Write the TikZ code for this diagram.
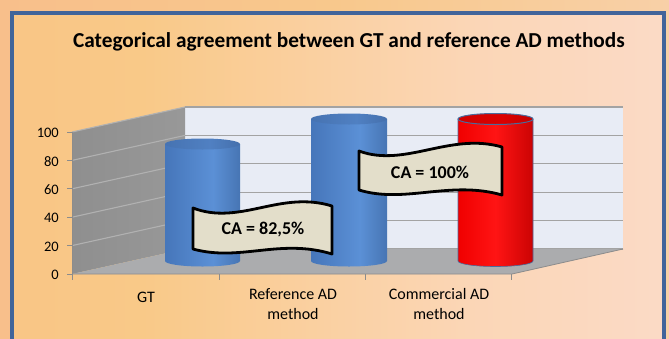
\documentclass[tikz,border=0pt]{standalone}
\usepackage{fontspec}
\setmainfont{Carlito}

% palette
\definecolor{outA}{HTML}{F9B68A}
\definecolor{outB}{HTML}{F8C88C}
\definecolor{outC}{HTML}{F9D8C2}
\definecolor{inA}{HTML}{F8BC80}
\definecolor{inB}{HTML}{F9C988}
\definecolor{inC}{HTML}{FBD6B6}
\definecolor{inD}{HTML}{FCE1E0}
\definecolor{frameblue}{HTML}{41649A}
\definecolor{wallA}{HTML}{8A8A8A}
\definecolor{wallB}{HTML}{9D9D9D}
\definecolor{backwall}{HTML}{E8ECF5}
\definecolor{gridgray}{HTML}{A3A3A3}
\definecolor{floorgray}{HTML}{ABACAE}
\definecolor{axisgray}{HTML}{8C8C8C}
\definecolor{blA}{HTML}{3A68AA}
\definecolor{blB}{HTML}{4676BA}
\definecolor{blC}{HTML}{5B90D6}
\definecolor{blD}{HTML}{3F6BA6}
\definecolor{blE}{HTML}{213E66}
\definecolor{btA}{HTML}{3E68A4}
\definecolor{btB}{HTML}{5080C2}
\definecolor{btC}{HTML}{375C92}
\definecolor{rdA}{HTML}{D80000}
\definecolor{rdB}{HTML}{F00000}
\definecolor{rdC}{HTML}{FF1414}
\definecolor{rdD}{HTML}{C00000}
\definecolor{rdE}{HTML}{6A0000}
\definecolor{rtA}{HTML}{C40000}
\definecolor{rtB}{HTML}{DC0000}
\definecolor{rtC}{HTML}{A00000}
\definecolor{redrim}{HTML}{4A6B9C}
\definecolor{calloutfill}{HTML}{E3DECA}

\pgfdeclarehorizontalshading{outsh}{100bp}{color(0bp)=(outA); color(50bp)=(outB); color(100bp)=(outC)}
\pgfdeclarehorizontalshading{insh}{100bp}{color(0bp)=(inA); color(35bp)=(inB); color(60bp)=(inC); color(100bp)=(inD)}
\pgfdeclarehorizontalshading{wallsh}{100bp}{color(0bp)=(wallA); color(100bp)=(wallB)}
\pgfdeclarehorizontalshading{bluebody}{100bp}{color(0bp)=(blA); color(25bp)=(blB); color(57bp)=(blC); color(82bp)=(blD); color(100bp)=(blE)}
\pgfdeclarehorizontalshading{bluetop}{100bp}{color(0bp)=(btA); color(55bp)=(btB); color(100bp)=(btC)}
\pgfdeclarehorizontalshading{redbody}{100bp}{color(0bp)=(rdA); color(25bp)=(rdB); color(50bp)=(rdC); color(80bp)=(rdD); color(100bp)=(rdE)}
\pgfdeclarehorizontalshading{redtop}{100bp}{color(0bp)=(rtA); color(55bp)=(rtB); color(100bp)=(rtC)}

\begin{document}
\begin{tikzpicture}[x=1pt,y=-1pt,
  gridline/.style={draw=gridgray,line width=1.1pt},
  axisline/.style={draw=axisgray,line width=0.9pt},
  ticklabel/.style={font=\fontsize{14.5}{16}\selectfont,text=black,inner sep=0pt},
  catlabel/.style={font=\fontsize{16}{20}\selectfont,text=black,align=center,inner sep=0pt},
  callout/.style={draw=black,line width=2.8pt,line join=round,fill=calloutfill},
  callouttext/.style={font=\bfseries\fontsize{18}{20}\selectfont,text=black,inner sep=0pt},
]
\useasboundingbox (0,0) rectangle (669,338);

% page and panel backgrounds
\path[shading=outsh] (0,0) rectangle (669,338);
\path[shading=insh] (12,13) rectangle (664,345);
\draw[frameblue,line width=3.6pt] (12,13) rectangle (664,350);

% title
\node[font=\bfseries\fontsize{21.3}{24}\selectfont,inner sep=0pt] (title) at (349,42)
  {Categorical agreement between GT and reference AD methods};

% back wall with grid
\fill[backwall] (185,107) rectangle (623,249);
\foreach \k in {0,...,5}
  \draw[gridline] (185,{107+28.4*\k}) -- (623,{107+28.4*\k});

% side wall with grid
\path[shading=wallsh] (72,132) -- (185,107) -- (185,249) -- (72,274) -- cycle;
\foreach \k in {0,...,4}
  \draw[gridline,draw=wallB!80!white] (72,{132+28.4*\k}) -- (185,{107+28.4*\k});

% floor
\fill[floorgray] (72,274) -- (185,249) -- (623,249) -- (512,274) -- cycle;
\draw[axisgray,line width=0.8pt] (72,274) -- (512,274) -- (623,249);
\draw[axisline] (72,132) -- (72,274);

% value axis ticks and labels
\foreach \v [count=\i from 0] in {0,20,40,60,80,100} {
  \draw[axisline] (67,{274-28.4*\i}) -- (72,{274-28.4*\i});
  \node[ticklabel,anchor=east] (yl\v) at (59,{275-28.4*\i}) {\v};
}

% category ticks
\foreach \x in {72,219,365,511}
  \draw[axisline] (\x,274) -- (\x,280);

% cylinders
\path[shading=bluebody] (165,144) -- (165,261) arc[start angle=180,end angle=0,x radius=37.5,y radius=5.5] -- (240,144) -- cycle;
\path[shading=bluetop] (202.5,144) ellipse[x radius=37.5,y radius=5.5];

\path[shading=bluebody] (311,119) -- (311,261) arc[start angle=180,end angle=0,x radius=38,y radius=5.5] -- (387,119) -- cycle;
\path[shading=bluetop] (349,119) ellipse[x radius=38,y radius=5.5];

\path[shading=redbody] (458,119) -- (458,261) arc[start angle=180,end angle=0,x radius=37.5,y radius=5.5] -- (533,119) -- cycle;
\draw[redrim,line width=0.6pt] (458,119) -- (458,261) arc[start angle=180,end angle=0,x radius=37.5,y radius=5.5] -- (533,119);
\path[shading=redtop] (495.5,119) ellipse[x radius=37.5,y radius=5.5];
\draw[redrim,line width=1pt] (495.5,119) ellipse[x radius=37.5,y radius=5.5];

% category labels
\node[catlabel] (catgt) at (146,297) {GT};
\node[catlabel,anchor=north] (catref) at (293,288) {Reference AD\\method};
\node[catlabel,anchor=north] (catcom) at (439,288) {Commercial AD\\method};

% wave callouts
\draw[callout] (193,208) .. controls (240,226) and (280,190) .. (332,206)
  -- (332,254) .. controls (280,238) and (240,262) .. (193,249) -- cycle;
\node[callouttext] (ca1) at (263,229) {CA = 82,5\%};

\draw[callout] (359,151) .. controls (405,168) and (450,132) .. (502,147)
  -- (502,195) .. controls (450,180) and (405,204) .. (359,190) -- cycle;
\node[callouttext] (ca2) at (430,172) {CA = 100\%};
\end{tikzpicture}
\end{document}
